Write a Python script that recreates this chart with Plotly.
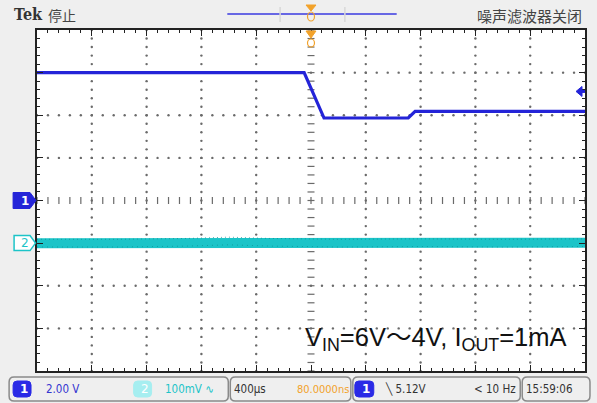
import plotly.graph_objects as go

# ---------------- data ----------------
# Channel 1 (2 V/div, ground at screen centre), time in microseconds (400 us/div)
ch1_t = [0, 1950, 2095, 2710, 2760, 4000]
ch1_v = [6.0, 6.0, 3.87, 3.87, 4.18, 4.18]
# Channel 2 (100 mV/div, ground marker 1 div below centre), AC ripple level in mV
ch2_t = [0, 600, 1100, 1400, 1700, 2200, 2800, 3400, 4000]
ch2_mv = [0, 0, 2, 5, 2, 0, 1, 0, 1]

CH1_VDIV = 2.0
CH2_MVDIV = 100.0
CH2_OFFSET_DIV = -1.0
T_DIV = 400.0

status_left = ["2.00 V", "100mV \u223f"]
status_time = ["400\u00b5s", "80.0000ns"]
status_trig = ["\u2572 5.12V", "< 10 Hz"]
status_clock = "15:59:06"
top_left = "Tek"
top_state = "停止"
top_right = "噪声滤波器关闭"
note = "V<sub>IN</sub>=6V\uff5e4V, I<sub>OUT</sub>=1mA"

# ---------------- geometry helpers (pixel -> paper) ----------------
L, R, T, B = 37, 587, 30, 371
W, H = 597, 403
def px(x):
    return (x - L) / (R - L)
def py(y):
    return (B - y) / (B - T)

BLUE = "#2424d8"
CYAN = "#1cc4c8"
ORANGE = "#f2a22a"
GRID = "#6a6a6a"

fig = go.Figure()

# graticule dots
gx, gy = [], []
for k in range(1, 10):
    if k == 5:
        continue
    for j in range(-20, 21):
        gx.append(k * T_DIV); gy.append(j / 5)
for k in range(-3, 4):
    if k == 0:
        continue
    for j in range(0, 51):
        gx.append(j * T_DIV / 5); gy.append(k)
fig.add_trace(go.Scatter(x=gx, y=gy, mode="markers", hoverinfo="skip",
                         marker=dict(size=2.4, color=GRID), showlegend=False))
# centre lines with small ticks
cx = [j * T_DIV / 5 for j in range(0, 51)]
fig.add_trace(go.Scatter(x=cx, y=[0] * len(cx), mode="markers", hoverinfo="skip",
                         marker=dict(symbol="line-ns", size=5, line=dict(width=1.2, color=GRID)),
                         showlegend=False))
cy = [j / 5 for j in range(-20, 21)]
fig.add_trace(go.Scatter(x=[5 * T_DIV] * len(cy), y=cy, mode="markers", hoverinfo="skip",
                         marker=dict(symbol="line-ew", size=5, line=dict(width=1.2, color=GRID)),
                         showlegend=False))

# channel 2 (noise band)
ch2_y = [m / CH2_MVDIV + CH2_OFFSET_DIV for m in ch2_mv]
fig.add_trace(go.Scatter(x=ch2_t, y=ch2_y, mode="lines", line=dict(color=CYAN, width=10),
                         showlegend=False))
fig.add_trace(go.Scatter(x=ch2_t, y=[v + 0.09 for v in ch2_y], mode="lines",
                         line=dict(color="#0f8f94", width=1, dash="1px,3px"), opacity=0.7,
                         showlegend=False))
fig.add_trace(go.Scatter(x=ch2_t, y=[v - 0.09 for v in ch2_y], mode="lines",
                         line=dict(color="#0f8f94", width=1, dash="1px,4px"), opacity=0.7,
                         showlegend=False))
# channel 1
fig.add_trace(go.Scatter(x=ch1_t, y=[v / CH1_VDIV for v in ch1_v], mode="lines",
                         line=dict(color=BLUE, width=3.2), showlegend=False))

shapes = []
ann = []

def poly(pts, fill, line, lw=1):
    d = "M " + " L ".join(f"{px(x)},{py(y)}" for x, y in pts) + " Z"
    shapes.append(dict(type="path", xref="paper", yref="paper", path=d,
                       fillcolor=fill, line=dict(color=line, width=lw)))

def rrect(x0, y0, x1, y1, r, line, fill="rgba(0,0,0,0)", lw=1.5):
    d = (f"M {px(x0 + r)},{py(y0)} L {px(x1 - r)},{py(y0)} Q {px(x1)},{py(y0)} {px(x1)},{py(y0 + r)} "
         f"L {px(x1)},{py(y1 - r)} Q {px(x1)},{py(y1)} {px(x1 - r)},{py(y1)} "
         f"L {px(x0 + r)},{py(y1)} Q {px(x0)},{py(y1)} {px(x0)},{py(y1 - r)} "
         f"L {px(x0)},{py(y0 + r)} Q {px(x0)},{py(y0)} {px(x0 + r)},{py(y0)} Z")
    shapes.append(dict(type="path", xref="paper", yref="paper", path=d,
                       fillcolor=fill, line=dict(color=line, width=lw)))

def text(x, y, s, color, size=11, anchor="left", family="DejaVu Sans Condensed, Liberation Sans Narrow, sans-serif"):
    ann.append(dict(x=px(x), y=py(y), xref="paper", yref="paper", text=s, showarrow=False,
                    xanchor=anchor, yanchor="middle", font=dict(color=color, size=size, family=family)))

# ---- top bar ----
text(12, 14, "<b>Tek</b>", "#333333", 16, family="DejaVu Serif Condensed, DejaVu Serif, serif")
text(46, 15, top_state, "#444444", 14, family="Noto Sans CJK SC")
text(586, 15, top_right, "#444444", 15, anchor="right", family="Noto Sans CJK SC")
shapes.append(dict(type="line", xref="paper", yref="paper", x0=px(228), x1=px(398), y0=py(14), y1=py(14),
                   line=dict(color="#3a3ae0", width=1.5)))
shapes.append(dict(type="line", xref="paper", yref="paper", x0=px(281), x1=px(281), y0=py(7), y1=py(22),
                   line=dict(color="#d8d8d8", width=1.5)))
shapes.append(dict(type="line", xref="paper", yref="paper", x0=px(346), x1=px(346), y0=py(7), y1=py(22),
                   line=dict(color="#d8d8d8", width=1.5)))
poly([(307, 5), (317, 5), (312, 11)], ORANGE, ORANGE)
shapes.append(dict(type="circle", xref="paper", yref="paper", x0=px(308.5), x1=px(315.5), y0=py(12), y1=py(21),
                   line=dict(color=ORANGE, width=1.2), fillcolor="rgba(0,0,0,0)"))
# trigger position marker on graticule
poly([(307, 31), (317, 31), (312, 38)], ORANGE, ORANGE)
shapes.append(dict(type="circle", xref="paper", yref="paper", x0=px(308.5), x1=px(315.5), y0=py(39), y1=py(47),
                   line=dict(color=ORANGE, width=1.2), fillcolor="rgba(0,0,0,0)"))

# ---- channel markers ----
y1m = 200.5
poly([(13, y1m - 8), (30, y1m - 8), (36, y1m), (30, y1m + 8), (13, y1m + 8)], BLUE, BLUE)
text(19, y1m, "<b>1</b>", "white", 12, family="DejaVu Sans")
y2m = 200.5 - CH2_OFFSET_DIV * 42.6
poly([(14, y2m - 7.5), (30, y2m - 7.5), (35.5, y2m), (30, y2m + 7.5), (14, y2m + 7.5)], "white", CYAN, 1.5)
text(19, y2m, "2", CYAN, 12, family="DejaVu Sans")
# trigger level arrow (5.12 V)
ytr = 200.5 - (5.12 / CH1_VDIV) * 42.6
poly([(578, ytr), (584, ytr - 5), (584, ytr + 5)], BLUE, BLUE)
shapes.append(dict(type="line", xref="paper", yref="paper", x0=px(583), x1=px(587), y0=py(ytr), y1=py(ytr),
                   line=dict(color=BLUE, width=3)))

# ---- status bar ----
rrect(9, 377, 229, 401, 5, "#8a8a8a")
rrect(231, 377, 352, 401, 5, "#8a8a8a")
rrect(354, 377, 522, 401, 5, "#8a8a8a")
rrect(524, 377, 592, 401, 5, "#8a8a8a")
rrect(13, 381, 31, 397, 4, "#2a2ae6", "#2a2ae6", 1)
text(17.5, 389, "<b>1</b>", "white", 12, family="DejaVu Sans")
text(44, 389, status_left[0], "#3535d0", 11.5)
rrect(134, 381, 152, 397, 4, "#a6eef0", "#a6eef0", 1)
text(139, 389, "2", "white", 12, family="DejaVu Sans")
text(163, 389, status_left[1], CYAN, 11.5)
text(233, 389, status_time[0], "#333333", 11.5)
text(296, 389, status_time[1], ORANGE, 11)
rrect(356, 381, 375, 397, 4, "#2a2ae6", "#2a2ae6", 1)
text(361, 389, "<b>1</b>", "white", 12, family="DejaVu Sans")
text(384, 389, status_trig[0], "#333333", 11.5)
text(520, 389, status_trig[1], "#333333", 11.5, anchor="right")
text(526, 389, status_clock, "#333333", 11.5)

# ---- note ----
text(437.5, 339, note, "#111111", 25.5, anchor="center", family="Liberation Sans, Noto Sans CJK SC, sans-serif")

fig.update_layout(
    width=W, height=H,
    margin=dict(l=L, r=W - R, t=T, b=H - B),
    paper_bgcolor="#efefef", plot_bgcolor="white",
    shapes=shapes, annotations=ann, showlegend=False,
    xaxis=dict(range=[0, 10 * T_DIV], showgrid=False, zeroline=False, showticklabels=False,
               ticks="inside", ticklen=6, tickcolor="#222", dtick=T_DIV, tick0=0,
               minor=dict(ticks="inside", ticklen=3, dtick=T_DIV / 5, tickcolor="#222", showgrid=False),
               showline=True, linecolor="#222", linewidth=1.5, mirror="allticks", fixedrange=True),
    yaxis=dict(range=[-4, 4], showgrid=False, zeroline=False, showticklabels=False,
               ticks="inside", ticklen=6, tickcolor="#222", dtick=1, tick0=0,
               minor=dict(ticks="inside", ticklen=3, dtick=0.2, tickcolor="#222", showgrid=False),
               showline=True, linecolor="#222", linewidth=1.5, mirror="allticks", fixedrange=True),
)

fig.write_html("out.html")
